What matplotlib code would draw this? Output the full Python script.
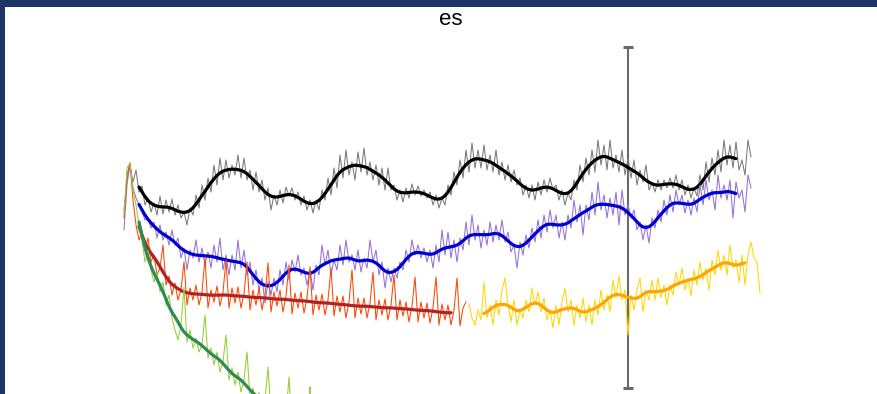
import numpy as np
import matplotlib
matplotlib.use("Agg")
import matplotlib.pyplot as plt
from matplotlib.patches import Rectangle

# Daily series (day index 0 = first observation)
gray_vals = [
    190, 220, 234, 218, 230, 208, 214, 195, 202, 188,
    197, 185, 204, 186, 200, 188, 201, 185, 195, 182,
    188, 175, 192, 185, 205, 192, 215, 200, 222, 208,
    235, 215, 242, 220, 240, 222, 235, 225, 245, 222,
    242, 220, 230, 210, 228, 208, 220, 200, 212, 190,
    205, 195, 210, 197, 213, 204, 212, 200, 208, 195,
    204, 190, 200, 187, 200, 190, 210, 200, 222, 205,
    232, 212, 245, 222, 250, 225, 238, 220, 248, 228,
    252, 225, 238, 220, 235, 215, 232, 210, 232, 210,
    215, 200, 210, 198, 212, 202, 216, 205, 214, 204,
    210, 202, 208, 195, 205, 192, 202, 195, 215, 205,
    228, 215, 240, 222, 250, 228, 257, 232, 250, 232,
    255, 230, 245, 228, 250, 225, 238, 220, 235, 218,
    230, 215, 222, 205, 215, 202, 215, 200, 218, 205,
    220, 208, 222, 210, 215, 200, 210, 195, 207, 200,
    220, 210, 235, 218, 242, 225, 250, 228, 260, 235,
    255, 230, 260, 232, 245, 228, 250, 225, 242, 222,
    240, 215, 230, 218, 235, 210, 217, 208, 220, 210,
    220, 212, 222, 212, 225, 210, 220, 205, 215, 202,
    212, 204, 225, 210, 238, 218, 242, 225, 250, 228,
    260, 235, 255, 232, 258, 230, 240, 225, 260, 243,
]

purple_vals = [
    170, 215, 237, 212, 202, 195, 188, 180, 182, 172,
    178, 162, 175, 160, 168, 155, 170, 155, 162, 142,
    152, 130, 150, 142, 160, 138, 152, 135, 148, 132,
    155, 138, 162, 130, 145, 125, 145, 130, 160, 132,
    150, 125, 138, 115, 130, 110, 122, 97, 118, 105,
    122, 108, 130, 115, 138, 120, 140, 128, 145, 125,
    132, 115, 130, 110, 135, 125, 155, 135, 150, 125,
    140, 130, 155, 135, 160, 138, 145, 130, 150, 128,
    142, 132, 160, 138, 150, 125, 138, 112, 132, 118,
    132, 122, 138, 130, 150, 138, 160, 145, 155, 142,
    152, 138, 150, 132, 155, 138, 170, 145, 168, 142,
    160, 138, 162, 150, 178, 155, 185, 160, 175, 152,
    170, 155, 178, 158, 175, 160, 180, 158, 168, 148,
    155, 132, 158, 145, 165, 152, 172, 158, 180, 162,
    185, 168, 190, 172, 185, 162, 178, 160, 185, 172,
    200, 178, 195, 165, 195, 180, 208, 185, 218, 190,
    205, 182, 202, 185, 208, 175, 210, 185, 195, 182,
    190, 170, 178, 160, 175, 157, 182, 172, 190, 178,
    200, 185, 205, 188, 210, 195, 205, 187, 200, 185,
    202, 188, 215, 195, 220, 200, 210, 190, 225, 202,
    215, 200, 220, 182, 218, 202, 210, 188, 225, 212,
]

red_vals = [
    182, 225, 237, 200, 175, 160, 168, 150, 162, 138,
    145, 125, 132, 155, 115, 124, 105, 117, 100, 110,
    138, 95, 112, 100, 115, 95, 108, 142, 92, 110,
    98, 114, 94, 108, 140, 92, 112, 97, 113, 92,
    106, 138, 90, 110, 95, 112, 90, 105, 137, 88,
    108, 94, 110, 88, 104, 135, 86, 107, 92, 108,
    87, 102, 133, 85, 105, 90, 106, 85, 100, 132,
    84, 104, 88, 104, 82, 98, 130, 82, 102, 86,
    102, 82, 97, 128, 80, 100, 85, 101, 80, 95,
    125, 80, 100, 84, 98, 78, 94, 123, 78, 98,
    82, 97, 77, 92, 123, 75, 96, 80, 95, 75,
    90, 122, 74, 92, 98,
]

yellow_start = 115
yellow_vals = [
    96, 82, 75, 90, 80, 118, 82, 95, 75, 100,
    85, 110, 122, 95, 78, 100, 75, 90, 82, 100,
    88, 112, 95, 108, 88, 102, 80, 90, 72, 95,
    75, 98, 112, 88, 100, 75, 95, 82, 102, 78,
    95, 75, 100, 85, 110, 90, 105, 88, 120, 102,
    124, 100, 110, 65, 105, 90, 110, 122, 88, 110,
    100, 120, 100, 122, 102, 115, 95, 115, 105, 128,
    115, 132, 110, 122, 104, 130, 115, 138, 120, 132,
    110, 140, 125, 150, 130, 145, 125, 155, 132, 140,
    118, 145, 115, 145, 158, 142, 138, 107,
]

green_vals = [
    185, 232, 237, 210, 195, 175, 160, 138, 150, 130,
    118, 128, 108, 118, 95, 105, 82, 70, 60, 75,
    113, 58, 70, 52, 62, 48, 55, 85, 42, 52,
    35, 48, 28, 38, 65, 20, 32, 15, 28, 8,
    20, 48, 2, 12, -5, 7, -10, 0, 33, -15,
    -5, -20, -10, -25, -15, 23, -30, -20, -35, -28,
    -40, -30, 13, -45,
]

# marker spanning the full value range at the split day
split_day = 168
range_low, range_high = 12, 353

title_text = "es"


def smooth(values):
    """Weekly trimmed mean followed by a short gaussian kernel."""
    v = np.asarray(values, dtype=float)
    n = len(v)
    tm = np.full(n, np.nan)
    for i in range(3, n - 3):
        w = np.sort(v[i - 3:i + 4])[1:-1]
        tm[i] = w.mean()
    k = np.exp(-0.5 * (np.arange(-2, 3) / 1.2) ** 2)
    k /= k.sum()
    out = np.full(n, np.nan)
    for i in range(5, n - 5):
        out[i] = np.dot(tm[i - 2:i + 3], k)
    return out


fig = plt.figure(figsize=(8.77, 3.94), dpi=100)
ax = fig.add_axes([0, 0, 1, 1])
ax.axis("off")
ax.set_xlim(-124 / 3, 753 / 3)
ax.set_ylim(6, 400)

eb = ax.errorbar([split_day], [(range_low + range_high) / 2],
                 yerr=[[(range_high - range_low) / 2], [(range_high - range_low) / 2]],
                 fmt="none", ecolor="#6a6a6a", elinewidth=1.5,
                 capsize=3.5, capthick=2.2, zorder=1)
for cap in eb[1]:
    cap.set_color("#1a1a1a")

series = [
    (0, gray_vals, "#7a7a7a", "#000000"),
    (0, purple_vals, "#9370DB", "#0000CD"),
    (0, red_vals, "#FF4500", "#B22222"),
    (yellow_start, yellow_vals, "#FFD700", "#FFA500"),
    (0, green_vals, "#9ACD32", "#2E8B57"),
]

z = 2
for start, vals, thin_c, thick_c in series:
    days = np.arange(start, start + len(vals))
    ax.plot(days, vals, color=thin_c, lw=0.75, zorder=z)
    ax.plot(days, smooth(vals), color=thick_c, lw=2.3, zorder=z + 1,
            solid_capstyle="round")
    z += 2

navy = "#1e3467"
fig.patches.append(Rectangle((0, 1 - 7 / 394), 1, 7 / 394, transform=fig.transFigure,
                             facecolor=navy, edgecolor="none", zorder=10))
fig.patches.append(Rectangle((0, 0), 5 / 877, 1, transform=fig.transFigure,
                             facecolor=navy, edgecolor="none", zorder=10))

fig.text(451 / 877, 1 - 25 / 394, title_text, ha="center", va="baseline",
         fontsize=16, family="Liberation Sans", color="#000000")

fig.savefig("out.png", dpi=100)
